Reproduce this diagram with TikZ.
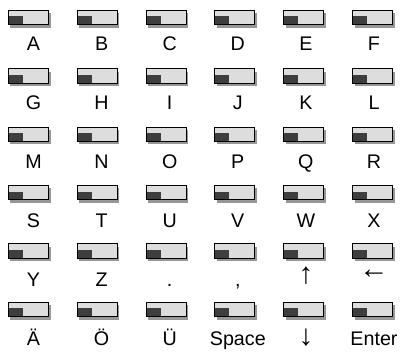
\documentclass[tikz,border=0pt]{standalone}
\usepackage{fontspec}
\setmainfont{Liberation Sans}
\usepackage{tikz}
\usetikzlibrary{shadows, positioning, calc}
\definecolor{KeyFace}{RGB}{221,221,221}
\definecolor{KeyMark}{RGB}{62,62,62}
\definecolor{KeyShade}{RGB}{140,140,140}
\newcommand{\keyarrow}[2][0pt]{\raisebox{#1}{\fontsize{21}{21}\selectfont #2}}

\tikzset{
  keybar/.style={
    draw=black,
    fill=KeyFace,
    line width=0.7pt,
    minimum width=1.0cm,
    minimum height=0.36cm,
    inner sep=0pt,
    drop shadow={shadow xshift=0.05cm, shadow yshift=-0.07cm, fill=KeyShade, opacity=0.9},
    path picture={
      \fill[KeyMark] ([shift={(0.4pt,0.4pt)}]path picture bounding box.south west)
        rectangle ([shift={(10.3pt,5.9pt)}]path picture bounding box.south west);
    }
  },
  keylabel/.style={
    anchor=base,
    inner sep=0pt,
    font=\fontsize{14}{16}\selectfont
  }
}

\begin{document}
\begin{tikzpicture}[x=0.025cm, y=-0.025cm]
\useasboundingbox (0,0) rectangle (400,351);
\foreach \row [count=\j from 0] in {
  {A,B,C,D,E,F},
  {G,H,I,J,K,L},
  {M,N,O,P,Q,R},
  {S,T,U,V,W,X},
  {Y,Z,.,{,},\keyarrow[1.5pt]{↑},\keyarrow[5pt]{←}},
  {Ä,Ö,Ü,Space,\keyarrow{↓},Enter}}
{
  \foreach \lbl [count=\i from 0] in \row {
    \node[keybar] (key-\j-\i) at ({28.5+68.8*\i},{17.5+58.4*\j}) {};
    \node[keylabel] (lbl-\j-\i) at ({33.5+68.1*\i},{50+59*\j}) {\lbl};
  }
}
\end{tikzpicture}
\end{document}
